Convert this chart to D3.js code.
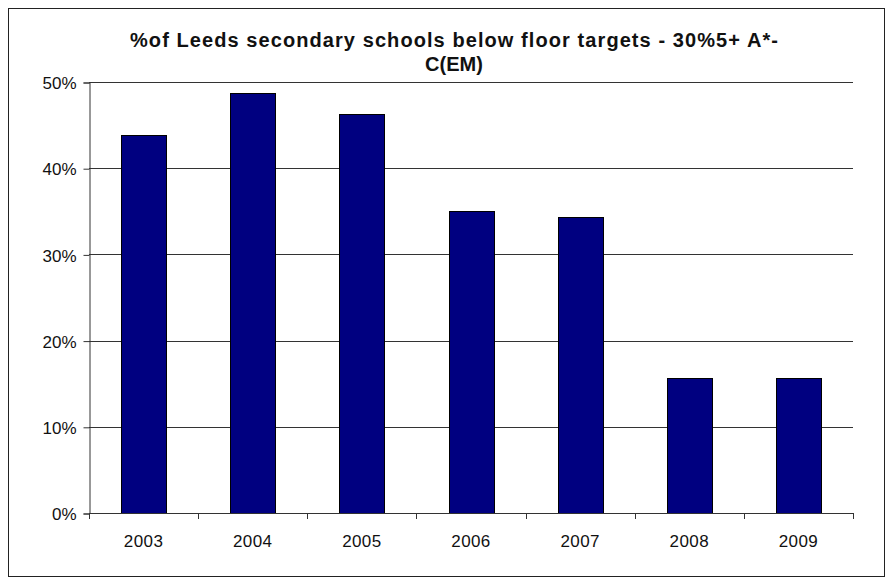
<!DOCTYPE html>
<html>
<head>
<meta charset="utf-8">
<script src="https://cdn.jsdelivr.net/npm/d3@7"></script>
<style>
  body { margin: 0; background: #fff; }
  text { font-family: "Liberation Sans", Arial, sans-serif; }
</style>
</head>
<body>
<div id="chart"></div>
<script>
// data
const years = ["2003", "2004", "2005", "2006", "2007", "2008", "2009"];
const pctBelow = [0.438, 0.487, 0.463, 0.350, 0.343, 0.157, 0.157];
const yTicks = [0, 0.1, 0.2, 0.3, 0.4, 0.5];
const titleLines = ["%of Leeds secondary schools below floor targets - 30%5+ A*-", "C(EM)"];

const width = 893, height = 585;
const plot = { left: 89, right: 853, top: 82, bottom: 513 };

const svg = d3.select("#chart")
  .append("svg")
  .attr("width", width)
  .attr("height", height);

// outer frame
svg.append("rect")
  .attr("x", 8.5).attr("y", 8.5)
  .attr("width", 876).attr("height", 568)
  .attr("fill", "white")
  .attr("stroke", "#222")
  .attr("stroke-width", 1);

const x = d3.scaleBand()
  .domain(years)
  .range([plot.left, plot.right])
  .paddingInner(0.59)
  .paddingOuter(0.295);

const y = d3.scaleLinear()
  .domain([0, 0.5])
  .range([plot.bottom, plot.top]);

// gridlines
svg.append("g")
  .selectAll("line")
  .data(yTicks.filter(d => d > 0))
  .enter()
  .append("line")
  .attr("x1", plot.left).attr("x2", plot.right)
  .attr("y1", d => Math.round(y(d)) + 0.5)
  .attr("y2", d => Math.round(y(d)) + 0.5)
  .attr("stroke", "#333");

// bars
svg.append("g")
  .selectAll("rect")
  .data(pctBelow)
  .enter()
  .append("rect")
  .attr("x", (d, i) => Math.round(x(years[i])) + 0.5)
  .attr("y", d => Math.round(y(d)) + 0.5)
  .attr("width", Math.round(x.bandwidth()))
  .attr("height", d => Math.round(y(0)) - Math.round(y(d)))
  .attr("fill", "#000080")
  .attr("stroke", "#000")
  .attr("stroke-width", 1);

// y axis
const yAxis = svg.append("g")
  .attr("transform", "translate(" + (plot.left + 0.5) + ",0.5)")
  .call(d3.axisLeft(y).tickValues(yTicks).tickFormat(d3.format(".0%")).tickSize(6).tickPadding(7));
yAxis.select(".domain").attr("stroke", "#333");
yAxis.selectAll(".tick line").attr("stroke", "#333");
yAxis.selectAll(".tick text")
  .attr("font-size", "17px")
  .attr("fill", "#111")
  .attr("dy", "0.36em")
  .attr("font-family", "Liberation Sans, Arial, sans-serif");

// x axis: baseline with ticks at category boundaries
const xg = svg.append("g");
xg.append("line")
  .attr("x1", plot.left).attr("x2", plot.right)
  .attr("y1", plot.bottom + 0.5).attr("y2", plot.bottom + 0.5)
  .attr("stroke", "#333");
const bounds = years.map((d, i) => plot.left + i * x.step());
bounds.push(plot.right);
xg.selectAll("line.tk")
  .data(bounds)
  .enter()
  .append("line")
  .attr("class", "tk")
  .attr("x1", d => Math.round(d) + 0.5).attr("x2", d => Math.round(d) + 0.5)
  .attr("y1", plot.bottom).attr("y2", plot.bottom + 6)
  .attr("stroke", "#333");
xg.selectAll("text")
  .data(years)
  .enter()
  .append("text")
  .attr("x", d => x(d) + x.bandwidth() / 2)
  .attr("y", plot.bottom + 34)
  .attr("text-anchor", "middle")
  .attr("font-size", "17px")
  .attr("letter-spacing", "0.4px")
  .attr("fill", "#111")
  .text(d => d);

// title
svg.append("g")
  .selectAll("text")
  .data(titleLines)
  .enter()
  .append("text")
  .attr("x", 454)
  .attr("y", (d, i) => 47 + i * 23.5)
  .attr("text-anchor", "middle")
  .attr("font-size", "20px")
  .attr("font-weight", "bold")
  .attr("fill", "#111")
  .each(function(d, i) {
    if (i === 0) d3.select(this).attr("textLength", 648).attr("lengthAdjust", "spacing");
  })
  .text(d => d);
</script>
</body>
</html>
